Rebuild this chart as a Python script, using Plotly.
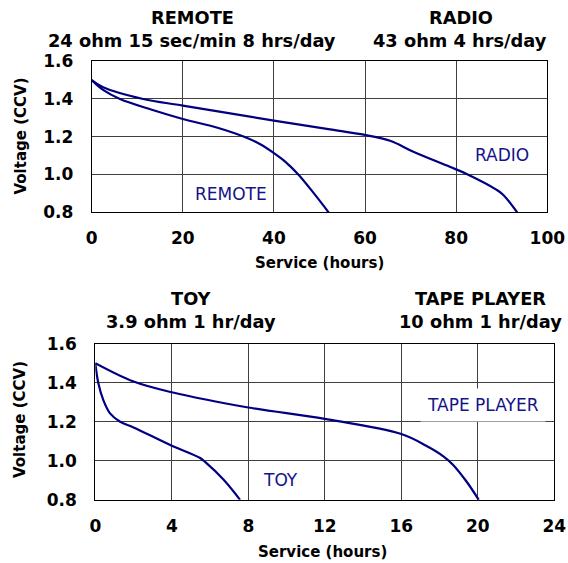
import plotly.graph_objects as go

# ---------------- data ----------------
remote_x = [0, 2.5, 6.2, 13.2, 20, 27.8, 33.6, 37, 40, 42.4, 45.4, 49, 52]
remote_y = [1.5, 1.448, 1.4, 1.343, 1.294, 1.246, 1.198, 1.16, 1.113, 1.069, 0.998, 0.892, 0.798]

radio_x = [0, 2.5, 11.3, 20, 40, 52.3, 60, 65.5, 70.6, 78.6, 82.3, 88.8, 90.3, 93.4]
radio_y = [1.5, 1.462, 1.4, 1.365, 1.285, 1.239, 1.209, 1.178, 1.12, 1.04, 1.002, 0.919, 0.892, 0.798]

toy_x = [0, 0.16, 0.42, 0.77, 1.3, 2.0, 4.0, 5.48, 5.74, 6.7, 7.57]
toy_y = [1.5, 1.397, 1.311, 1.243, 1.2, 1.171, 1.077, 1.014, 0.994, 0.904, 0.8]

tape_x = [0, 2.0, 4.0, 8.0, 12.0, 16.0, 17.3, 18.2, 18.7, 19.4, 20.05]
tape_y = [1.5, 1.406, 1.351, 1.273, 1.215, 1.137, 1.077, 1.023, 0.98, 0.895, 0.8]

top_xticks = [0, 20, 40, 60, 80, 100]
bot_xticks = [0, 4, 8, 12, 16, 20, 24]
yticks = [0.8, 1.0, 1.2, 1.4, 1.6]

W, H = 568, 563
FONT = "DejaVu Sans"
NAVY = "#000080"
LABEL = "#14148a"
GRID = "#404040"


def px(x):
    return x / W


def py(y):
    return 1 - y / H


fig = go.Figure()

line = dict(color=NAVY, width=2.2, shape="spline", smoothing=1.0)
fig.add_trace(go.Scatter(x=remote_x, y=remote_y, mode="lines", line=line,
                         xaxis="x", yaxis="y", showlegend=False))
fig.add_trace(go.Scatter(x=radio_x, y=radio_y, mode="lines", line=line,
                         xaxis="x", yaxis="y", showlegend=False))
fig.add_trace(go.Scatter(x=toy_x, y=toy_y, mode="lines", line=line,
                         xaxis="x2", yaxis="y2", showlegend=False))
fig.add_trace(go.Scatter(x=tape_x, y=tape_y, mode="lines", line=line,
                         xaxis="x2", yaxis="y2", showlegend=False))

tickfont = dict(family=FONT, size=17, color="black", weight="bold")
common = dict(showgrid=True, gridcolor=GRID, gridwidth=1, showline=True,
              linecolor="black", linewidth=1, mirror=True, zeroline=False,
              ticks="", tickfont=tickfont, fixedrange=True, automargin=False)

fig.update_layout(
    width=W, height=H,
    margin=dict(l=0, r=0, t=0, b=0, pad=0, autoexpand=False),
    paper_bgcolor="white", plot_bgcolor="white",
    xaxis=dict(domain=[px(91.7), px(547.3)], range=[0, 100], tickvals=top_xticks,
               anchor="y", ticklabelstandoff=11, **common),
    yaxis=dict(domain=[py(212.0), py(61.3)], range=[0.8, 1.6], tickvals=yticks,
               tickformat=".1f", anchor="x", ticklabelstandoff=14, **common),
    xaxis2=dict(domain=[px(95.3), px(554.3)], range=[0, 24], tickvals=bot_xticks,
                anchor="y2", ticklabelstandoff=11, **common),
    yaxis2=dict(domain=[py(499.8), py(343.7)], range=[0.8, 1.6], tickvals=yticks,
                tickformat=".1f", anchor="x2", ticklabelstandoff=14, **common),
)

ann = []


def ptext(text, x, y, size, bold=True, angle=0):
    ann.append(dict(text=text, x=px(x), y=py(y), xref="paper", yref="paper",
                    xanchor="center", yanchor="middle", showarrow=False,
                    textangle=angle,
                    font=dict(family=FONT, size=size, color="black",
                              weight="bold" if bold else "normal")))


# panel titles
ptext("REMOTE", 192, 17.5, 17.8)
ptext("24 ohm 15 sec/min 8 hrs/day", 192, 40, 17.8)
ptext("RADIO", 461, 17.5, 17.8)
ptext("43 ohm 4 hrs/day", 460, 40, 17.8)
ptext("TOY", 191, 298.5, 17.8)
ptext("3.9 ohm 1 hr/day", 191, 321.5, 17.8)
ptext("TAPE PLAYER", 480, 298.5, 17.8)
ptext("10 ohm 1 hr/day", 480, 321.5, 17.8)

# axis titles
ptext("Service (hours)", 319.5, 263, 15)
ptext("Service (hours)", 322, 551.5, 15)
ptext("Voltage (CCV)", 20, 136.5, 15, angle=-90)
ptext("Voltage (CCV)", 20, 420, 15, angle=-90)

# curve labels (data coordinates)
lab_font = dict(family=FONT, size=17, color=LABEL)
ann.append(dict(text="REMOTE", x=30.5, y=0.895, xref="x", yref="y",
                showarrow=False, font=lab_font))
ann.append(dict(text="RADIO", x=90.1, y=1.105, xref="x", yref="y",
                showarrow=False, font=lab_font))
ann.append(dict(text="TOY", x=9.7, y=0.903, xref="x2", yref="y2",
                showarrow=False, font=lab_font))
ann.append(dict(text="TAPE PLAYER", x=20.25, y=1.286, xref="x2", yref="y2",
                showarrow=False, font=lab_font, bgcolor="white", borderpad=6))

fig.update_layout(annotations=ann)

# place the figure flush with the page corner (no default body margin / scrollbars)
fig.write_html(
    "out.html",
    config={"displayModeBar": False, "staticPlot": True},
    post_script="document.body.style.margin='0';document.body.style.overflow='hidden';",
)
